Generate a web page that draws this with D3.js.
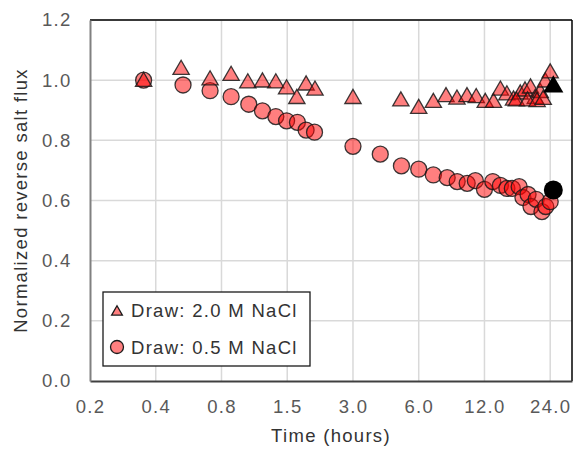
<!DOCTYPE html>
<html>
<head>
<meta charset="utf-8">
<script src="https://cdnjs.cloudflare.com/ajax/libs/d3/7.8.5/d3.min.js"></script>
<style>
body { margin:0; background:#fff; }
text { font-family: "Liberation Sans", Arial, sans-serif; }
</style>
</head>
<body>
<div id="chart"></div>
<script>
// data (time in hours, normalized flux)
var time20 = [0.33,0.49,0.665,0.83,0.99,1.155,1.33,1.49,1.66,1.83,2.01,3.0,4.97,6.0,7.0,8.0,8.98,9.98,11.0,12.1,13.2,14.2,15.2,16.3,17.5,18.4,19.5,20.5,21.6,22.8,24.0,16.8,18.9,20.9,22.3];
var flux20 = [0.995,1.035,1.0,1.015,0.99,0.993,0.99,0.97,0.938,0.983,0.966,0.938,0.93,0.905,0.925,0.944,0.936,0.944,0.941,0.925,0.925,0.966,0.95,0.933,0.953,0.963,0.973,0.938,0.958,0.993,1.023,0.93,0.93,0.928,0.935];
var time05 = [0.33,0.5,0.665,0.83,1.0,1.155,1.33,1.49,1.67,1.83,2.0,3.0,4.0,5.0,6.0,7.0,8.1,9.0,10.0,10.9,12.0,13.1,14.2,15.2,16.1,17.3,18.0,19.0,19.6,20.7,22.0,22.9,24.0];
var flux05 = [1.0,0.984,0.965,0.945,0.92,0.898,0.879,0.865,0.86,0.834,0.827,0.78,0.754,0.715,0.704,0.685,0.676,0.663,0.657,0.666,0.637,0.663,0.65,0.64,0.64,0.646,0.61,0.62,0.58,0.604,0.563,0.58,0.596];
// final highlighted points
var lastTime = [24.8];
var lastFlux20 = [0.978];
var lastFlux05 = [0.635];

var xTicks = [0.1875,0.375,0.75,1.5,3,6,12,24];
var xTickLabels = ["0.2","0.4","0.8","1.5","3.0","6.0","12.0","24.0"];
var yTicks = [0,0.2,0.4,0.6,0.8,1.0,1.2];
var legendLabels = ["Draw: 2.0 M NaCl","Draw: 0.5 M NaCl"];

var W = 573, H = 451;
var margin = {top:20, right:1, bottom:70, left:90};
var width = W - margin.left - margin.right,
    height = H - margin.top - margin.bottom;

var svg = d3.select("#chart").append("svg")
    .attr("width", W).attr("height", H);
var g = svg.append("g")
    .attr("transform","translate(" + margin.left + "," + margin.top + ")");

var x = d3.scaleLog().base(2).domain([0.1875, 30.2]).range([0, width]);
var y = d3.scaleLinear().domain([0, 1.2]).range([height, 0]);

// gridlines
g.append("g").selectAll("line").data(xTicks.slice(1)).enter().append("line")
    .attr("x1", d => x(d)).attr("x2", d => x(d))
    .attr("y1", 0).attr("y2", height)
    .attr("stroke","#d9d9d9").attr("stroke-width",1.5);
g.append("g").selectAll("line").data(yTicks.slice(1)).enter().append("line")
    .attr("x1", 0).attr("x2", width)
    .attr("y1", d => y(d)).attr("y2", d => y(d))
    .attr("stroke","#d9d9d9").attr("stroke-width",1.5);

// frame
g.append("line").attr("x1",0).attr("x2",width).attr("y1",0).attr("y2",0)
    .attr("stroke","#000").attr("stroke-width",1.5);
g.append("line").attr("x1",width).attr("x2",width).attr("y1",0).attr("y2",height)
    .attr("stroke","#000").attr("stroke-width",1.5);

// axes
var xAxis = g.append("g")
    .attr("transform","translate(0," + height + ")")
    .call(d3.axisBottom(x).tickValues(xTicks)
        .tickFormat((d,i) => xTickLabels[i]).tickSize(0).tickPadding(19));
var yAxis = g.append("g")
    .call(d3.axisLeft(y).tickValues(yTicks)
        .tickFormat(d3.format(".1f")).tickSize(0).tickPadding(18.5));
xAxis.select(".domain").attr("stroke","#404040").attr("stroke-width",2);
yAxis.select(".domain").attr("stroke","#808080").attr("stroke-width",2);
[xAxis, yAxis].forEach(function(a){
  a.selectAll("text")
    .attr("fill","#595959")
    .style("font-size","18.5px")
    .style("letter-spacing","1.3px")
    .style("font-family","'Liberation Sans', Arial, sans-serif");
});

// points
var tri = d3.symbol().type(d3.symbolTriangle).size(115);
var triBig = d3.symbol().type(d3.symbolTriangle).size(175);

g.append("g").selectAll("circle")
    .data(time05.map((t,i) => [t, flux05[i]]))
  .enter().append("circle")
    .attr("cx", d => x(d[0])).attr("cy", d => y(d[1]))
    .attr("r", 8)
    .attr("fill","red").attr("fill-opacity",0.5)
    .attr("stroke","#1a1a1a").attr("stroke-opacity",0.85).attr("stroke-width",1.3);

g.append("g").selectAll("path")
    .data(time20.map((t,i) => [t, flux20[i]]))
  .enter().append("path")
    .attr("d", tri)
    .attr("transform", d => "translate(" + x(d[0]) + "," + y(d[1]) + ")")
    .attr("fill","red").attr("fill-opacity",0.5)
    .attr("stroke","#1a1a1a").attr("stroke-opacity",0.85).attr("stroke-width",1.3);

g.append("path")
    .attr("d", triBig)
    .attr("transform","translate(" + x(lastTime[0]) + "," + y(lastFlux20[0]) + ")")
    .attr("fill","#000");
g.append("circle")
    .attr("cx", x(lastTime[0])).attr("cy", y(lastFlux05[0]))
    .attr("r", 9.5).attr("fill","#000");

// legend
var lg = svg.append("g").attr("transform","translate(103,292)");
lg.append("rect").attr("width",207).attr("height",74)
    .attr("fill","#fff").attr("stroke","#1a1a1a").attr("stroke-width",1.3);
lg.append("path")
    .attr("d", d3.symbol().type(d3.symbolTriangle).size(50))
    .attr("transform","translate(14,20)")
    .attr("fill","#ff7f7f").attr("stroke","#1a1a1a").attr("stroke-width",1.3);
lg.append("circle").attr("cx",14).attr("cy",55).attr("r",6.5)
    .attr("fill","#ff7f7f").attr("stroke","#1a1a1a").attr("stroke-width",1.3);
lg.selectAll("text.lab").data(legendLabels).enter().append("text")
    .attr("class","lab")
    .attr("x", 28).attr("y", (d,i) => 25 + i*37)
    .attr("fill","#333")
    .style("font-size","18.5px").style("letter-spacing","1.3px")
    .text(d => d);

// axis titles
svg.append("text")
    .attr("x", margin.left + width/2).attr("y", 442)
    .attr("text-anchor","middle").attr("fill","#333")
    .style("font-size","18.5px").style("letter-spacing","1.3px")
    .text("Time (hours)");
svg.append("text")
    .attr("transform","translate(27," + (margin.top + height/2) + ") rotate(-90)")
    .attr("text-anchor","middle").attr("fill","#333")
    .style("font-size","18.5px").style("letter-spacing","1.3px")
    .text("Normalized reverse salt flux");
</script>
</body>
</html>
